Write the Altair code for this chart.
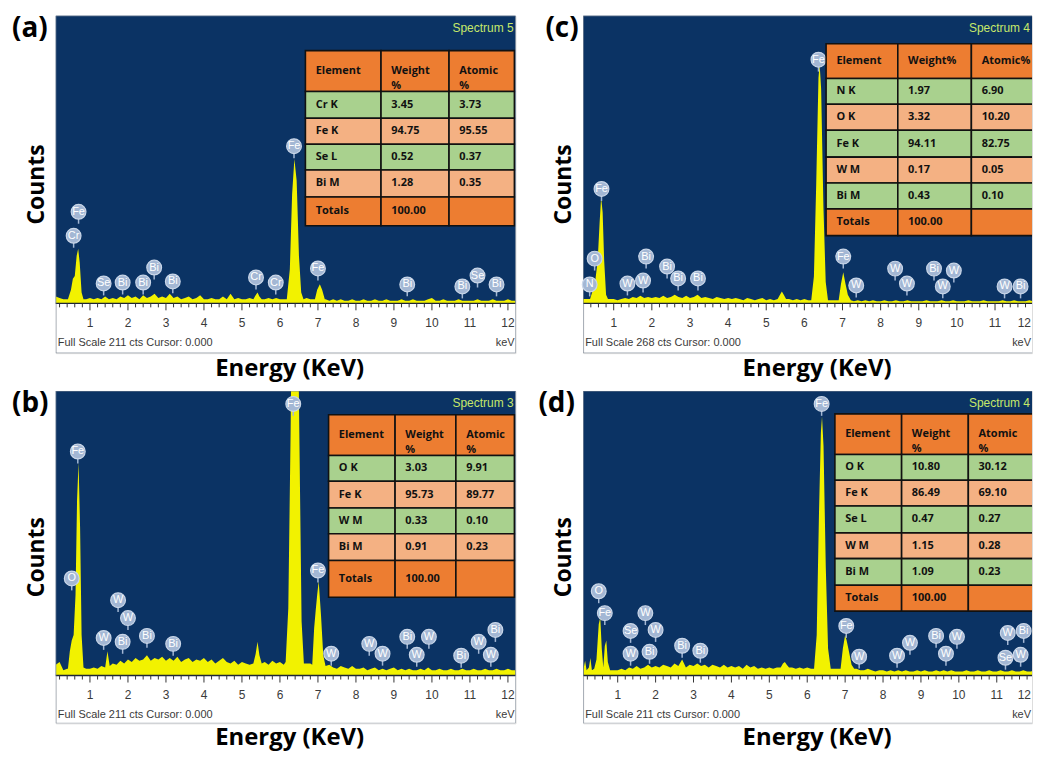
import altair as alt
import pandas as pd

# ---------------- data ----------------
E_GRID = [round(0.1 * i, 1) for i in range(1, 123)]  # 0.1 .. 12.2 keV

# (a) Spectrum 5
A_BASE = [5, 4, 3, 3, 3, 3, 3, 3, 3, 4,
          3, 4, 3, 5, 3, 4, 3, 5, 4, 6,
          4, 5, 3, 6, 4, 5, 7, 4, 5, 4,
          7, 4, 5, 3, 4, 5, 3, 4, 6, 3,
          3, 4, 3, 3, 5, 3, 7, 3, 4, 3,
          3, 4, 3, 5, 6, 3, 4, 3, 4, 3,
          3, 3, 3, 3, 3, 3, 4, 3, 3, 5,
          4, 3, 2, 3, 2, 3, 2, 2, 3, 2,
          2, 3, 2, 2, 3, 2, 2, 3, 2, 2,
          2, 3, 2, 2, 3, 2, 2, 2, 3, 4,
          2, 2, 3, 2, 2, 2, 3, 2, 2, 2,
          2, 3, 2, 2, 2, 3, 2, 2, 2, 3,
          2, 2]
A_PEAKS = [
    [(0.42, 3), (0.50, 10), (0.55, 18), (0.60, 20), (0.65, 35), (0.69, 40), (0.73, 30), (0.78, 8), (0.83, 3)],
    [(5.30, 3), (5.36, 6), (5.41, 8), (5.46, 5), (5.52, 3)],
    [(6.18, 3), (6.26, 25), (6.32, 80), (6.38, 106), (6.44, 90), (6.50, 35), (6.56, 8), (6.62, 3)],
    [(6.92, 3), (6.98, 10), (7.05, 14), (7.11, 10), (7.18, 3)],
]
A_MK_EL = ["Cr", "Fe", "Se", "Bi", "Bi", "Bi", "Bi", "Cr", "Cr", "Fe", "Fe", "Bi", "Bi", "Se", "Bi"]
A_MK_E = [0.57, 0.70, 1.36, 1.86, 2.40, 2.69, 3.18, 5.37, 5.89, 6.37, 7.00, 9.35, 10.80, 11.20, 11.70]
A_MK_C = [49.6, 67.2, 14.6, 15.3, 15.3, 26.3, 16.1, 19.0, 15.3, 115.3, 25.6, 13.9, 12.4, 20.4, 13.9]
A_TAB_EL = ["Cr K", "Fe K", "Se L", "Bi M", "Totals"]
A_TAB_WT = ["3.45", "94.75", "0.52", "1.28", "100.00"]
A_TAB_AT = ["3.73", "95.55", "0.37", "0.35", ""]

# (b) Spectrum 3
B_BASE = [8, 10, 4, 5, 6, 6, 6, 6, 5, 5,
          6, 5, 7, 8, 6, 9, 8, 11, 9, 12,
          10, 13, 11, 12, 15, 11, 13, 12, 14, 11,
          13, 11, 14, 10, 12, 13, 10, 12, 11, 13,
          10, 12, 9, 11, 13, 10, 9, 11, 8, 10,
          9, 8, 10, 9, 9, 10, 8, 11, 9, 10,
          8, 9, 9, 9, 9, 9, 9, 9, 8, 8,
          7, 6, 8, 6, 5, 7, 6, 5, 7, 5,
          5, 6, 4, 5, 6, 4, 5, 4, 5, 6,
          4, 5, 4, 5, 4, 4, 5, 4, 6, 4,
          4, 5, 4, 4, 5, 4, 4, 5, 4, 4,
          5, 4, 4, 5, 4, 4, 5, 4, 4, 5,
          4, 4]
B_PEAKS = [
    [(0.42, 5), (0.47, 18), (0.52, 26), (0.57, 30), (0.62, 60), (0.66, 130), (0.70, 158), (0.74, 110), (0.78, 30), (0.83, 6)],
    [(1.40, 6), (1.46, 18), (1.52, 7)],
    [(5.30, 9), (5.36, 16), (5.41, 25), (5.46, 15), (5.52, 9)],
    [(6.15, 10), (6.22, 50), (6.28, 180), (6.33, 320), (6.39, 400), (6.45, 330), (6.51, 180), (6.57, 40), (6.63, 9)],
    [(6.85, 8), (6.90, 35), (6.94, 48), (6.98, 60), (7.02, 70), (7.08, 45), (7.14, 15), (7.20, 7)],
]
B_MK_EL = ["Fe", "O", "Fe", "Fe", "W", "W", "W", "Bi", "Bi", "Bi", "W", "W", "W", "Bi", "W", "W", "Bi", "W", "W", "Bi"]
B_MK_E = [0.68, 0.52, 6.35, 7.00, 1.36, 1.74, 2.00, 1.86, 2.50, 3.19, 7.35, 8.35, 8.70, 9.35, 9.60, 9.92, 10.77, 11.23, 11.55, 11.67]
B_MK_C = [166.1, 72.0, 201.4, 77.9, 27.9, 55.9, 42.6, 25.0, 29.4, 23.5, 16.2, 23.5, 16.2, 28.7, 15.4, 28.7, 14.7, 25.0, 15.4, 33.8]
B_TAB_EL = ["O K", "Fe K", "W M", "Bi M", "Totals"]
B_TAB_WT = ["3.03", "95.73", "0.33", "0.91", "100.00"]
B_TAB_AT = ["9.91", "89.77", "0.10", "0.23", ""]

# (c) Spectrum 4
C_BASE = [4, 4, 4, 5, 5, 5, 5, 5, 4, 4,
          3, 4, 5, 4, 6, 5, 7, 5, 6, 5,
          6, 5, 7, 5, 6, 8, 6, 5, 7, 5,
          6, 8, 5, 6, 5, 4, 6, 5, 4, 5,
          4, 5, 4, 3, 5, 4, 3, 4, 5, 3,
          4, 3, 4, 5, 6, 4, 3, 4, 3, 4,
          3, 3, 3, 3, 3, 3, 3, 3, 3, 4,
          3, 3, 2, 3, 2, 3, 2, 3, 2, 2,
          3, 2, 2, 3, 2, 2, 3, 2, 2, 2,
          2, 3, 2, 2, 2, 3, 2, 2, 3, 2,
          2, 2, 3, 2, 2, 2, 3, 2, 2, 2,
          2, 3, 2, 2, 3, 2, 2, 2, 3, 2,
          2, 2]
C_PEAKS = [
    [(0.38, 4), (0.45, 12), (0.52, 22), (0.58, 40), (0.63, 75), (0.67, 99), (0.71, 85), (0.75, 40), (0.80, 8), (0.85, 4)],
    [(5.30, 4), (5.36, 8), (5.41, 11), (5.46, 8), (5.52, 4)],
    [(6.18, 3), (6.25, 25), (6.31, 110), (6.37, 210), (6.40, 223), (6.44, 200), (6.50, 90), (6.56, 20), (6.62, 3)],
    [(6.90, 3), (6.96, 18), (7.02, 29), (7.08, 18), (7.14, 8), (7.22, 3)],
]
C_MK_EL = ["N", "O", "Fe", "W", "W", "Bi", "Bi", "Bi", "Bi", "Fe", "Fe", "W", "W", "W", "Bi", "W", "W", "W", "Bi"]
C_MK_E = [0.37, 0.50, 0.68, 1.36, 1.77, 1.85, 2.40, 2.69, 3.21, 6.37, 7.02, 7.36, 8.38, 8.69, 9.40, 9.63, 9.92, 11.25, 11.67]
C_MK_C = [17.6, 41.7, 106.6, 18.5, 21.3, 43.6, 34.3, 23.2, 23.2, 227.1, 43.6, 16.7, 32.4, 18.5, 32.4, 15.8, 30.6, 15.8, 15.8]
C_TAB_EL = ["N K", "O K", "Fe K", "W M", "Bi M", "Totals"]
C_TAB_WT = ["1.97", "3.32", "94.11", "0.17", "0.43", "100.00"]
C_TAB_AT = ["6.90", "10.20", "82.75", "0.05", "0.10", ""]

# (d) Spectrum 4
D_BASE = [8, 10, 5, 4, 6, 5, 6, 5, 4, 4,
          5, 4, 6, 5, 7, 5, 6, 8, 6, 7,
          6, 8, 7, 6, 9, 7, 12, 6, 8, 7,
          9, 7, 8, 6, 8, 7, 6, 8, 6, 7,
          6, 7, 5, 8, 6, 7, 5, 6, 5, 6,
          5, 6, 5, 8, 10, 6, 5, 6, 5, 6,
          5, 5, 5, 5, 5, 5, 5, 5, 5, 5,
          5, 4, 5, 4, 4, 5, 4, 3, 4, 4,
          3, 4, 3, 4, 3, 4, 3, 3, 4, 3,
          4, 3, 3, 4, 3, 4, 3, 4, 3, 3,
          3, 4, 3, 3, 4, 3, 3, 4, 3, 3,
          4, 3, 3, 4, 3, 3, 4, 3, 3, 4,
          3, 3]
D_PEAKS = [
    [(0.10, 5), (0.14, 11), (0.18, 4), (0.24, 6), (0.28, 13), (0.32, 4), (0.38, 5), (0.44, 12), (0.50, 38),
     (0.54, 43), (0.58, 20), (0.62, 6), (0.66, 22), (0.70, 26), (0.74, 10), (0.80, 4)],
    [(5.30, 6), (5.36, 9), (5.41, 10), (5.46, 8), (5.52, 6)],
    [(6.18, 5), (6.25, 30), (6.31, 120), (6.36, 180), (6.39, 192), (6.43, 170), (6.49, 80), (6.55, 20), (6.62, 5)],
    [(6.88, 5), (6.94, 20), (7.00, 30), (7.04, 26), (7.10, 18), (7.17, 8), (7.24, 5)],
]
D_MK_EL = ["O", "Fe", "Se", "W", "W", "W", "Bi", "Bi", "Bi", "Fe", "Fe", "W", "W", "W", "Bi", "W", "W", "W", "Bi", "Se", "W"]
D_MK_E = [0.50, 0.66, 1.34, 1.34, 1.73, 2.00, 1.84, 2.70, 3.18, 6.38, 7.03, 7.37, 8.37, 8.71, 9.40, 9.66, 9.95, 11.29, 11.71, 11.23, 11.63]
D_MK_C = [62.5, 46.3, 33.1, 16.2, 46.3, 33.8, 17.6, 22.1, 18.4, 201.4, 36.8, 14.0, 14.7, 24.3, 29.4, 16.2, 28.7, 31.6, 33.1, 13.2, 15.4]
D_TAB_EL = ["O K", "Fe K", "Se L", "W M", "Bi M", "Totals"]
D_TAB_WT = ["10.80", "86.49", "0.47", "1.15", "1.09", "100.00"]
D_TAB_AT = ["30.12", "69.10", "0.27", "0.28", "0.23", ""]

HEAD_2LINE = ["Element", "Weight\n%", "Atomic\n%"]
HEAD_1LINE = ["Element", "Weight%", "Atomic%"]

MAJOR_TICKS = list(range(1, 13))
MAJOR_LABELS = [str(v) for v in MAJOR_TICKS]
MINOR_TICKS = [round(0.2 * k, 1) for k in range(1, 62) if k % 5 != 0]

# ---------------- styles / layout ----------------
BLUE = "#0b3364"
YELLOW = "#f2f200"
BUB = "#a3b7d4"
BUB_EDGE = "#c9d6e8"
ORANGE = "#ed7d31"
GREEN = "#a9d18e"
SALMON = "#f4b183"
SPEC_COL = "#c6e86a"
STRIP_FONT = "Liberation Sans Narrow, Liberation Sans, Arial, sans-serif"
BOLD_FONT = "Open Sans"
PAD_KEV = 0.27
STEM_PX = 12

LAY_A = dict(W=462, HB=289, HS=50, xdom=[0.1, 12.2], fs=211, letter="(a)", ldx=-44, ldy=-1,
             spectrum="Spectrum 5", fullscale="Full Scale 211 cts Cursor: 0.000",
             cols=[6.67, 8.66, 10.45, 12.17],
             rows=[185.4, 155.5, 135.8, 116.8, 97.8, 78.1, 56.9], right_border=True, tdy=23)
LAY_B = dict(W=462, HB=286, HS=48, xdom=[0.1, 12.2], fs=211, letter="(b)", ldx=-44, ldy=-1,
             spectrum="Spectrum 3", fullscale="Full Scale 211 cts Cursor: 0.000",
             cols=[7.28, 9.03, 10.63, 12.17],
             rows=[193.3, 163.2, 144.1, 124.2, 105.1, 85.3, 58.1], right_border=True, tdy=22)
LAY_C = dict(W=451, HB=289, HS=50, xdom=[0.2, 11.97], fs=268, letter="(c)", ldx=-38, ldy=-1,
             spectrum="Spectrum 4", fullscale="Full Scale 268 cts Cursor: 0.000",
             cols=[6.57, 8.45, 10.38, 12.45],
             rows=[242.0, 209.6, 185.5, 161.4, 136.3, 112.2, 88.1, 63.1], right_border=False, tdy=23)
LAY_D = dict(W=451, HB=286, HS=48, xdom=[0.09, 11.93], fs=211, letter="(d)", ldx=-45, ldy=-1,
             spectrum="Spectrum 4", fullscale="Full Scale 211 cts Cursor: 0.000",
             cols=[6.73, 8.49, 10.25, 12.03],
             rows=[194.0, 163.9, 144.8, 125.7, 105.8, 86.7, 66.9, 47.8], right_border=False, tdy=22)


def spectrum_df(base, peaks):
    spans = [(p[0][0], p[-1][0]) for p in peaks]
    pts = [(e, c) for e, c in zip(E_GRID, base) if not any(lo <= e <= hi for lo, hi in spans)]
    for p in peaks:
        pts.extend(p)
    pts.sort()
    return pd.DataFrame(pts, columns=["E", "C"])


def table_df(lay, header, el, wt, at, fills):
    cols, rows = lay["cols"], lay["rows"]
    texts = [header] + [[a, b, c] for a, b, c in zip(el, wt, at)]
    recs = []
    for r, (rt, fill) in enumerate(zip(texts, fills)):
        for c in range(3):
            recs.append(dict(x0=cols[c], x1=cols[c + 1], y0=rows[r], y1=rows[r + 1], fill=fill,
                             text=rt[c], tx=cols[c] + PAD_KEV, ty=(rows[r] + rows[r + 1]) / 2))
    return pd.DataFrame(recs)


def panel(lay, spec, mk_el, mk_e, mk_c, tab):
    W, HB, HS, fs = lay["W"], lay["HB"], lay["HS"], lay["fs"]
    H = HB + HS
    xmin, xmax = lay["xdom"]
    xs = alt.Scale(domain=lay["xdom"], nice=False, zero=False)
    ys = alt.Scale(domain=[0, fs], range=[HB, 0], nice=False, zero=False)

    def X(f):
        return alt.X(f, type="quantitative", scale=xs, axis=None)

    def Y(f):
        return alt.Y(f, type="quantitative", scale=ys, axis=None)

    one = pd.DataFrame({"x0": [xmin], "x1": [xmax], "y0": [0], "y1": [fs]})
    dummy = pd.DataFrame({"a": [0]})
    bg = alt.Chart(one).mark_rect(color=BLUE).encode(x=X("x0"), x2="x1", y=Y("y0"), y2="y1")
    area = alt.Chart(spec).mark_area(color=YELLOW, clip=True, interpolate="linear", orient="vertical").encode(
        x=X("E"), y=Y("C"))
    frame = alt.Chart(dummy).mark_rect(fillOpacity=0, stroke="#7d8896", strokeWidth=1, clip=True).encode(
        x=alt.value(0), x2=alt.value(W if lay["right_border"] else W + 4),
        y=alt.value(0), y2=alt.value(H))
    base_line = alt.Chart(one).mark_rule(color="#1c2536", strokeWidth=1.5).encode(
        x=X("x0"), x2="x1", y=Y("y0"))
    minor = alt.Chart(pd.DataFrame({"E": [t for t in MINOR_TICKS if xmin < t < xmax]})).mark_rule(
        color="#333333", strokeWidth=1).encode(x=X("E"), y=alt.value(HB), y2=alt.value(HB + 4))
    major = alt.Chart(pd.DataFrame({"E": [t for t in MAJOR_TICKS if xmin < t < xmax]})).mark_rule(
        color="#333333", strokeWidth=1).encode(x=X("E"), y=alt.value(HB), y2=alt.value(HB + 7))

    lab_df = pd.DataFrame({"E": MAJOR_TICKS, "L": MAJOR_LABELS})
    inner = lab_df[lab_df["E"] < xmax - 0.15]
    edge = lab_df[lab_df["E"] >= xmax - 0.15]
    tlab = alt.Chart(inner).mark_text(
        font=STRIP_FONT, fontSize=12, color="#3a3a3a", baseline="middle").encode(
        x=X("E"), y=alt.value(HB + 20), text="L")
    layers_edge = []
    if len(edge):
        layers_edge.append(alt.Chart(edge).mark_text(
            font=STRIP_FONT, fontSize=12, color="#3a3a3a", baseline="middle", align="right").encode(
            x=alt.value(W - 1), y=alt.value(HB + 20), text="L"))
    fsc = alt.Chart(dummy).mark_text(font=STRIP_FONT, fontSize=11, color="#3a3a3a", align="left",
                                     baseline="middle").encode(
        x=alt.value(2), y=alt.value(HB + 40), text=alt.value(lay["fullscale"]))
    kev = alt.Chart(dummy).mark_text(font=STRIP_FONT, fontSize=11, color="#3a3a3a", align="right",
                                     baseline="middle").encode(
        x=alt.value(W - 1), y=alt.value(HB + 40), text=alt.value("keV"))
    specl = alt.Chart(dummy).mark_text(font=STRIP_FONT, fontSize=12, color=SPEC_COL, align="right",
                                       baseline="middle").encode(
        x=alt.value(W - 2), y=alt.value(12), text=alt.value(lay["spectrum"]))

    stem = STEM_PX * fs / HB
    mk = pd.DataFrame({"el": mk_el, "E": mk_e, "C": mk_c})
    mk["C2"] = mk["C"] - stem
    stems = alt.Chart(mk).mark_rule(color=BUB, strokeWidth=1.5).encode(x=X("E"), y=Y("C"), y2="C2")
    bubbles = alt.Chart(mk).mark_circle(size=220, color=BUB, opacity=1, stroke=BUB_EDGE,
                                        strokeWidth=1.2).encode(x=X("E"), y=Y("C"))
    blab = alt.Chart(mk).mark_text(font=STRIP_FONT, fontSize=11, color="white", baseline="middle").encode(
        x=X("E"), y=Y("C"), text="el")

    cells = alt.Chart(tab).mark_rect(stroke="#111111", strokeWidth=1.6, clip=True).encode(
        x=X("x0"), x2="x1", y=Y("y0"), y2="y1", color=alt.Color("fill:N", scale=None))
    ctext = alt.Chart(tab).mark_text(font=BOLD_FONT, fontWeight="bold", fontSize=11, align="left",
                                     baseline="middle", lineBreak="\n", lineHeight=15,
                                     color="#111111").encode(x=X("tx"), y=Y("ty"), text="text")

    letter = alt.Chart(dummy).mark_text(font=BOLD_FONT, fontWeight="bold", fontSize=28, align="left",
                                        baseline="top", color="black").encode(
        x=alt.value(lay["ldx"]), y=alt.value(lay["ldy"]), text=alt.value(lay["letter"]))
    ytitle = alt.Chart(dummy).mark_text(font=BOLD_FONT, fontWeight="bold", fontSize=23, angle=270,
                                        align="center", baseline="middle", color="black").encode(
        x=alt.value(-19), y=alt.value(H / 2), text=alt.value("Counts"))
    xtitle = alt.Chart(dummy).mark_text(font=BOLD_FONT, fontWeight="bold", fontSize=24,
                                        align="center", baseline="alphabetic", color="black").encode(
        x=alt.value(235), y=alt.value(H + lay["tdy"]), text=alt.value("Energy (KeV)"))

    return alt.layer(bg, area, base_line, minor, major, tlab, *layers_edge, fsc, kev, specl, frame,
                     stems, bubbles, blab, cells, ctext, letter, ytitle, xtitle).properties(
        width=W, height=H)


FILL6 = [ORANGE, GREEN, SALMON, GREEN, SALMON, ORANGE]
FILL7 = [ORANGE, GREEN, SALMON, GREEN, SALMON, GREEN, ORANGE]

pa = panel(LAY_A, spectrum_df(A_BASE, A_PEAKS), A_MK_EL, A_MK_E, A_MK_C,
           table_df(LAY_A, HEAD_2LINE, A_TAB_EL, A_TAB_WT, A_TAB_AT, FILL6))
pb = panel(LAY_B, spectrum_df(B_BASE, B_PEAKS), B_MK_EL, B_MK_E, B_MK_C,
           table_df(LAY_B, HEAD_2LINE, B_TAB_EL, B_TAB_WT, B_TAB_AT, FILL6))
pc = panel(LAY_C, spectrum_df(C_BASE, C_PEAKS), C_MK_EL, C_MK_E, C_MK_C,
           table_df(LAY_C, HEAD_1LINE, C_TAB_EL, C_TAB_WT, C_TAB_AT, FILL7))
pd_ = panel(LAY_D, spectrum_df(D_BASE, D_PEAKS), D_MK_EL, D_MK_E, D_MK_C,
            table_df(LAY_D, HEAD_2LINE, D_TAB_EL, D_TAB_WT, D_TAB_AT, FILL7))

top = alt.hconcat(pa, pc, spacing=27)
bottom = alt.hconcat(pb, pd_, spacing=20)
chart = alt.vconcat(top, bottom, spacing=7).properties(
    padding={"left": 3, "top": 4, "right": 0, "bottom": 0}
).configure_view(stroke=None).configure(background="white")

chart.save("out.html", embed_options={"renderer": "svg", "actions": False})
